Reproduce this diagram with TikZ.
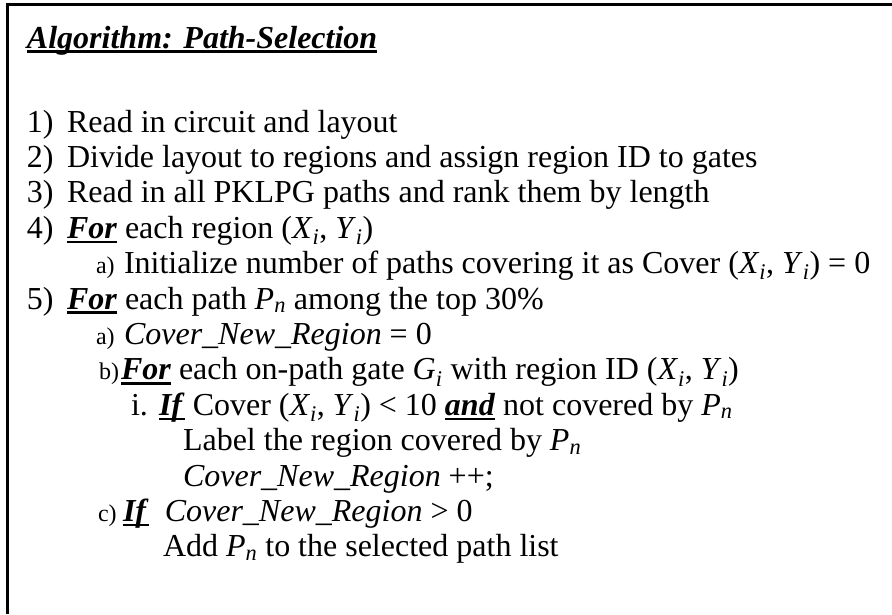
\documentclass[tikz,border=0pt]{standalone}
\usepackage{fontspec}
\setmainfont{Liberation Serif}
% thick underline under a keyword
\newcommand\ulbox[1]{\setbox0\hbox{#1}\rlap{\rule[-5pt]{\wd0}{2.6pt}}\box0\relax}
\newcommand\kw[1]{\ulbox{\textbf{\textit{#1}}}}
\newcommand\idx[1]{\textsubscript{\textit{#1}}}
\newcommand\sublab[1]{{\fontsize{24}{28}\selectfont #1}}
\begin{document}
\begin{tikzpicture}[x=1pt,y=-1pt,
  txt/.style={anchor=base west,inner sep=0pt,outer sep=0pt,font=\fontsize{32}{38}\selectfont},
  frame/.style={line width=2.4pt,black}]
\useasboundingbox (0,0) rectangle (892,614);
\fill[white] (0,0) rectangle (892,614);
% open frame: top and left edges
\coordinate (tl) at (7.5,4.5);
\coordinate (tr) at (892,4.5);
\coordinate (bl) at (7.5,614);
\draw[frame] (bl) -- (tl) -- (tr);
% title
\node[txt] (title) at (27,48) {\ulbox{\textbf{\textit{Algorithm: Path-Selection}}}};
% step lines
\def\dy{35.4}
\node[txt] (n1) at (27,132) {1)};
\node[txt] (t1) at (67,132) {Read in circuit and layout};
\node[txt] (n2) at (27,132+\dy) {2)};
\node[txt] (t2) at (67,132+\dy) {Divide layout to regions and assign region ID to gates};
\node[txt] (n3) at (27,132+2*\dy) {3)};
\node[txt] (t3) at (67,132+2*\dy) {Read in all PKLPG paths and rank them by length};
\node[txt] (n4) at (27,132+3*\dy) {4)};
\node[txt] (t4) at (67,132+3*\dy) {\kw{For} each region (\textit{X}\idx{i}, \textit{Y}\idx{i})};
\node[txt] (n4a) at (96,132+4*\dy) {\sublab{a)}};
\node[txt] (t4a) at (124,132+4*\dy) {Initialize number of paths covering it as Cover (\textit{X}\idx{i}, \textit{Y}\idx{i}) = 0};
\node[txt] (n5) at (27,132+5*\dy) {5)};
\node[txt] (t5) at (67,132+5*\dy) {\kw{For} each path \textit{P}\idx{n} among the top 30\%};
\node[txt] (n5a) at (96,132+6*\dy) {\sublab{a)}};
\node[txt] (t5a) at (124,132+6*\dy) {\textit{Cover\_New\_Region} = 0};
\node[txt] (n5b) at (99,132+7*\dy) {\sublab{b)}};
\node[txt] (t5b) at (121,132+7*\dy) {\kw{For} each on-path gate \textit{G}\idx{i} with region ID (\textit{X}\idx{i}, \textit{Y}\idx{i})};
\node[txt] (n5bi) at (131,132+8*\dy) {i.};
\node[txt] (t5bi) at (159,132+8*\dy) {\kw{If} Cover (\textit{X}\idx{i}, \textit{Y}\idx{i}) < 10 \kw{and} not covered by \textit{P}\idx{n}};
\node[txt] (t5bi1) at (183,132+9*\dy) {Label the region covered by \textit{P}\idx{n}};
\node[txt] (t5bi2) at (183,132+10*\dy) {\textit{Cover\_New\_Region} ++;};
\node[txt] (n5c) at (98,132+11*\dy) {\sublab{c)}};
\node[txt] (t5c) at (123,132+11*\dy) {\kw{If}\ \ \textit{Cover\_New\_Region} > 0};
\node[txt] (t5c1) at (163,132+12*\dy) {Add \textit{P}\idx{n} to the selected path list};
\end{tikzpicture}
\end{document}
